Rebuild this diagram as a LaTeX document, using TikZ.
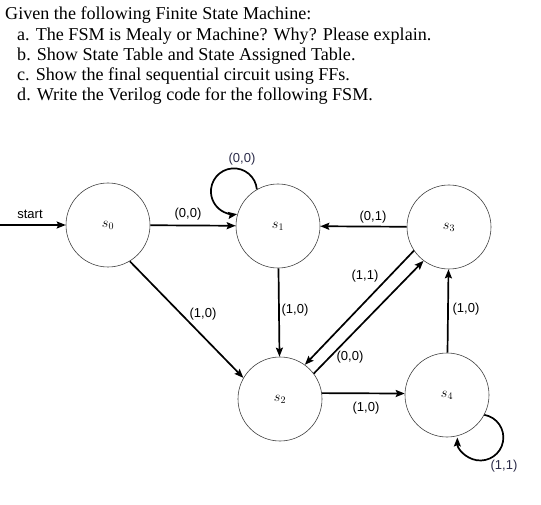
\documentclass[tikz,border=0pt]{standalone}
\usepackage{fontspec}
\setmainfont{Liberation Serif}
\setsansfont{Liberation Sans}
\usetikzlibrary{arrows.meta}
\definecolor{loopcol}{HTML}{2A2A48}
\begin{document}
\begin{tikzpicture}[x=1pt,y=1pt,
  state/.style={circle,draw=black!75,line width=0.6pt,minimum size=84pt,inner sep=0pt,font=\fontsize{14}{16}\selectfont},
  edge/.style={line width=1.7pt,-{Stealth[length=9pt,width=7pt,inset=1.5pt]}},
  lab/.style={font=\sffamily\fontsize{13}{15}\selectfont,inner sep=0pt},
  title/.style={anchor=base west,inner sep=0pt,font=\fontsize{18.1}{20}\selectfont}]
\useasboundingbox (0,0) rectangle (541,-505);
% title
\node[title] (t1) at (5,-20) {Given the following Finite State Machine:};
\node[title] (t2) at (17,-41) {a. The FSM is Mealy or Machine? Why? Please explain.};
\node[title] (t3) at (17,-61) {b. Show State Table and State Assigned Table.};
\node[title] (t4) at (17,-81) {c. Show the final sequential circuit using FFs.};
\node[title] (t5) at (17,-101) {d. Write the Verilog code for the following FSM.};
% states
\node[state] (s0) at (108,-225) {$s_0$};
\node[state] (s1) at (278,-226) {$s_1$};
\node[state] (s3) at (449,-227) {$s_3$};
\node[state] (s2) at (280,-399) {$s_2$};
\node[state] (s4) at (447,-395) {$s_4$};
\coordinate (st) at (0,-225);
% edges
\draw[edge] (st) -- (s0);
\node[lab] (lstart) at (30,-214) {start};
\draw[edge] (s0) -- (s1);
\node[lab] (l01) at (188,-214) {(0,0)};
\draw[edge] (s3) -- (s1);
\node[lab] (l31) at (373,-217) {(0,1)};
\draw[edge] (s1) -- (s2);
\node[lab] (l12) at (295,-310) {(1,0)};
\draw[edge] (s0.-59) -- (s2.150);
\node[lab] (l02) at (203,-314) {(1,0)};
\draw[edge] (s3.214) -- (s2.54);
\node[lab] (l32) at (365,-276) {(1,1)};
\draw[edge] (s2.37) -- (s3.233);
\node[lab] (l23) at (350,-357) {(0,0)};
\draw[edge] (s4) -- (s3);
\node[lab] (l43) at (466,-309) {(1,0)};
\draw[edge] (s2.8) -- (s4.178);
\node[lab] (l24) at (366,-408) {(1,0)};
% loops
\draw[edge] (s1.120) arc[start angle=5,end angle=278,radius=23];
\node[lab,text=loopcol] (l11) at (242,-159) {(0,0)};
\draw[edge] (s4.-28) arc[start angle=80,end angle=-180,radius=23];
\node[lab,text=loopcol] (l44) at (504,-466) {(1,1)};
\end{tikzpicture}
\end{document}
